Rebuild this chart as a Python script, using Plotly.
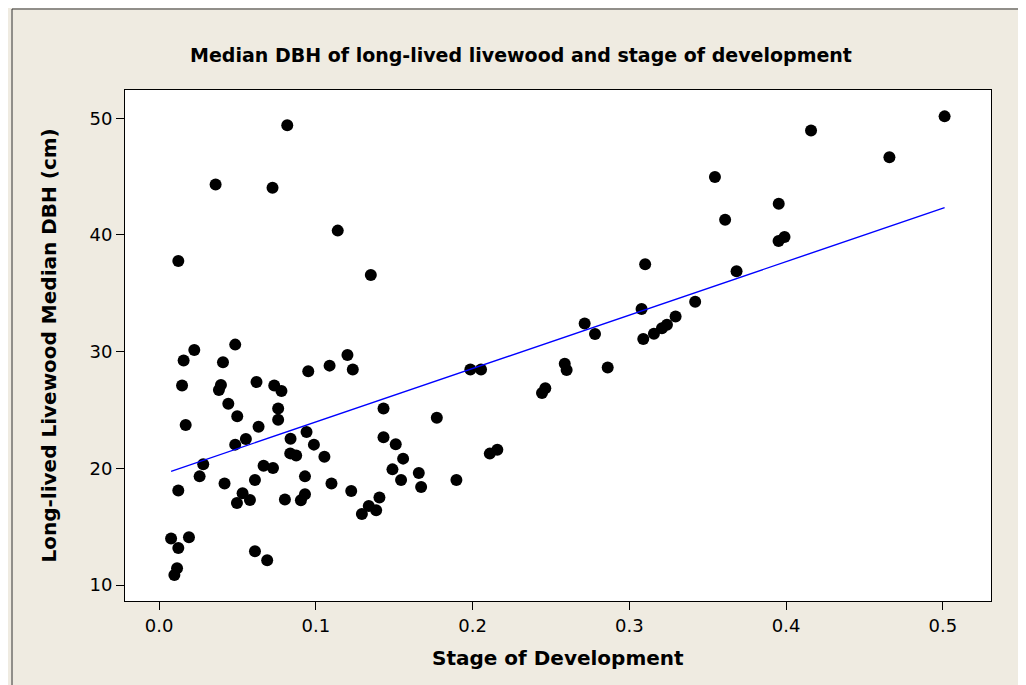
import plotly.graph_objects as go

# ---- data ----
stage = [
    0.0123, 0.0361, 0.0724, 0.0818, 0.1140,
    0.0225, 0.0486, 0.0157, 0.0408, 0.0952, 0.1088, 0.0147, 0.0395, 0.0382, 0.0622,
    0.0735, 0.0781, 0.0442, 0.0760, 0.0760, 0.0499, 0.0170, 0.0635, 0.0554, 0.0486,
    0.0839, 0.0941, 0.0988, 0.0837, 0.0875, 0.1055, 0.0282, 0.0259, 0.0667, 0.0727,
    0.0931, 0.1100, 0.0418, 0.0612, 0.0123, 0.0533, 0.0497, 0.0580, 0.0803, 0.0905,
    0.0931, 0.0077, 0.0191, 0.0123, 0.0612, 0.0690, 0.0115, 0.0098,
    0.1202, 0.1236, 0.1986, 0.2054, 0.1432, 0.1772, 0.1226, 0.1432, 0.1510, 0.1557,
    0.1489, 0.1544, 0.1657, 0.1672, 0.1897, 0.1406, 0.1338, 0.1385, 0.1294, 0.2110,
    0.2158, 0.1351,
    0.3546, 0.3611, 0.3101, 0.3684, 0.3078, 0.3420, 0.3295, 0.3240, 0.3208, 0.3157,
    0.3089, 0.2715, 0.2781, 0.2862, 0.2588, 0.2600, 0.2464, 0.2443,
    0.5011, 0.4159, 0.4659, 0.3953, 0.3952, 0.3990,
]
median_dbh = [
    37.76, 44.33, 44.05, 49.40, 40.37,
    30.14, 30.60, 29.23, 29.08, 28.31, 28.80, 27.09, 27.14, 26.71, 27.40,
    27.09, 26.62, 25.54, 25.12, 24.17, 24.46, 23.71, 23.57, 22.51, 22.03,
    22.54, 23.11, 22.03, 21.28, 21.09, 21.00, 20.34, 19.31, 20.23, 20.03,
    19.31, 18.69, 18.69, 19.00, 18.09, 17.86, 17.03, 17.28, 17.32, 17.26,
    17.77, 13.98, 14.09, 13.17, 12.89, 12.12, 11.43, 10.86,
    29.71, 28.46, 28.46, 28.46, 25.12, 24.34, 18.05, 22.66, 22.06, 20.83,
    19.91, 19.00, 19.60, 18.40, 19.00, 17.49, 16.77, 16.40, 16.08, 21.26,
    21.60, 36.56,
    44.96, 41.31, 37.48, 36.88, 33.65, 34.28, 33.02, 32.31, 32.00, 31.54,
    31.08, 32.42, 31.51, 28.63, 28.97, 28.42, 26.86, 26.45,
    50.16, 48.94, 46.65, 42.68, 39.48, 39.82,
]
# fitted line
fit_intercept = 19.39
fit_slope = 45.8

x_ticks = [0.0, 0.1, 0.2, 0.3, 0.4, 0.5]
y_ticks = [10, 20, 30, 40, 50]

title_text = "Median DBH of long-lived livewood and stage of development"
x_title = "Stage of Development"
y_title = "Long-lived Livewood Median DBH (cm)"

# ---- layout constants ----
W, H = 1026, 685
ML, MR, MT, MB = 117, 43, 82, 92
BG = "#EFEBE1"
FONT = "DejaVu Sans"

x_lo, x_hi = min(stage), max(stage)
fit_x = [x_lo, x_hi]
fit_y = [fit_intercept + fit_slope * v for v in fit_x]

fig = go.Figure()
fig.add_trace(go.Scatter(
    x=stage, y=median_dbh, mode="markers",
    marker=dict(color="black", size=12, line=dict(width=0)),
    showlegend=False, hoverinfo="x+y",
))
fig.add_trace(go.Scatter(
    x=fit_x, y=fit_y, mode="lines",
    line=dict(color="#0000FF", width=1.4),
    showlegend=False, hoverinfo="skip",
))

axis_common = dict(
    showgrid=False, zeroline=False, showline=True, linecolor="black",
    linewidth=1, mirror=True, ticks="outside", ticklen=8, tickwidth=1,
    tickcolor="black", tickfont=dict(family=FONT, size=18, color="black"),
)
fig.update_xaxes(range=[-0.0217, 0.5307], tickvals=x_ticks,
                 ticktext=[f"{v:.1f}" for v in x_ticks], **axis_common)
fig.update_yaxes(range=[8.63, 52.42], tickvals=y_ticks,
                 ticktext=[str(v) for v in y_ticks], **axis_common)

pw = W - ML - MR
ph = H - MT - MB

def px_to_paper_x(px):
    return (px - ML) / pw

def px_to_paper_y(py):
    return (H - MB - py) / ph

fig.update_layout(
    width=W, height=H,
    margin=dict(l=ML, r=MR, t=MT, b=MB, pad=0),
    paper_bgcolor=BG, plot_bgcolor="white",
    title=dict(text=f"<b>{title_text}</b>", x=0.5, xanchor="center",
               y=1 - 47 / H, yanchor="middle", yref="container",
               font=dict(family=FONT, size=19, color="black")),
    annotations=[
        dict(text=f"<b>{x_title}</b>", xref="paper", yref="paper",
             x=0.5, y=0, xanchor="center", yanchor="middle", yshift=-57,
             showarrow=False, font=dict(family=FONT, size=20, color="black")),
        dict(text=f"<b>{y_title}</b>", xref="paper", yref="paper",
             x=0, y=0.5, xanchor="center", yanchor="middle", xshift=-77,
             textangle=-90, showarrow=False,
             font=dict(family=FONT, size=20, color="black")),
    ],
    shapes=[
        dict(type="rect", xref="paper", yref="paper",
             x0=px_to_paper_x(4), x1=px_to_paper_x(1023),
             y0=px_to_paper_y(683), y1=px_to_paper_y(1),
             line=dict(color="#333333", width=1), fillcolor="rgba(0,0,0,0)",
             layer="below"),
    ],
)

fig.write_html("out.html")
